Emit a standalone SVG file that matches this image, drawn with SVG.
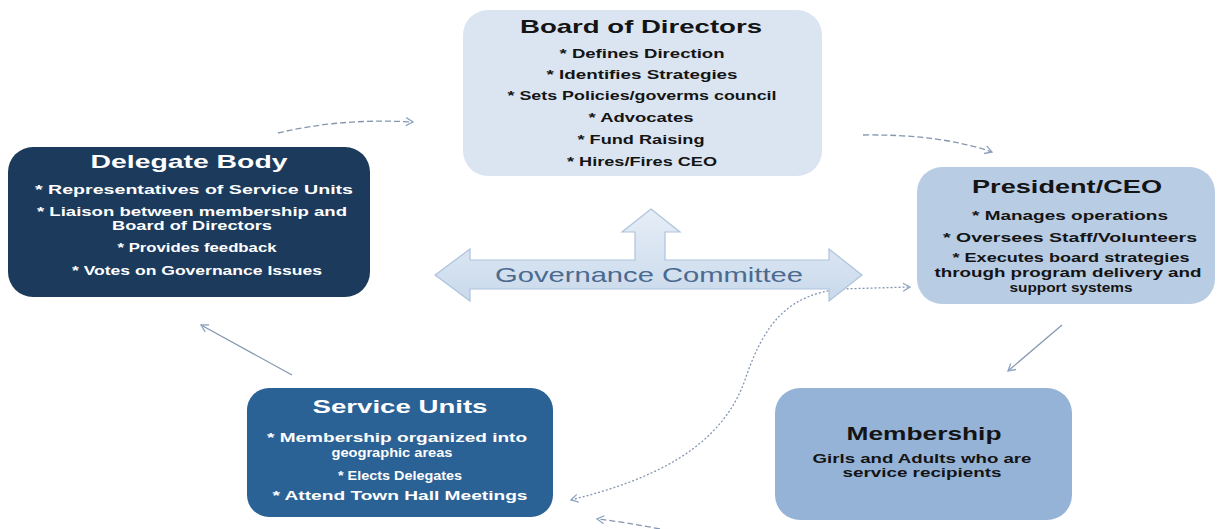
<svg xmlns="http://www.w3.org/2000/svg" width="1218" height="529" viewBox="0 0 1218 529">
<style>
text{font-family:"Liberation Sans",Arial,sans-serif;font-weight:bold;text-anchor:middle}
.t{font-size:19px}
.b{font-size:12px}
.dark{fill:#141414}
.light{fill:#ffffff}
.conn{fill:none;stroke:#8597b0;stroke-width:1.3}
.dash{stroke-dasharray:6 3}
.dot{stroke-dasharray:2 2}
</style>
<defs>
<marker id="arr" markerWidth="10" markerHeight="10" refX="8" refY="5" orient="auto" markerUnits="userSpaceOnUse">
<path d="M1,1 L8,5 L1,9" fill="none" stroke="#8ea4c2" stroke-width="1.3"/>
</marker>
<marker id="arrS" markerWidth="10" markerHeight="10" refX="2" refY="5" orient="auto" markerUnits="userSpaceOnUse">
<path d="M9,1 L2,5 L9,9" fill="none" stroke="#8ea4c2" stroke-width="1.3"/>
</marker>
<linearGradient id="gc" x1="0" y1="0" x2="0" y2="1">
<stop offset="0" stop-color="#e6eef7"/>
<stop offset="1" stop-color="#c9d9eb"/>
</linearGradient>
</defs>
<rect width="1218" height="529" fill="#ffffff"/>

<g id="connectors">
<path class="conn dash" d="M278,133 Q340,118 413,122" marker-end="url(#arr)"/>
<path class="conn dash" d="M863,135 Q940,134 992,152" marker-end="url(#arr)"/>
<path class="conn" d="M1062,325 L1008,371" marker-end="url(#arr)"/>
<path class="conn dash" d="M660,529 Q625,522 597,519" marker-end="url(#arr)"/>
<path class="conn" d="M292,375 L201,325" marker-end="url(#arr)"/>
<path class="conn dot" d="M571,500 C650,480 720,450 745,380 C765,320 790,295 840,289 L910,287" marker-start="url(#arrS)" marker-end="url(#arr)"/>
</g>

<g id="governance">
<path d="M435,275 L470,249 L470,260 L635,260 L635,232 L622,232 L651,209 L680,232 L665,232 L665,260 L829,260 L829,249 L862,275 L829,301 L829,289 L470,289 L470,301 Z" fill="url(#gc)" stroke="#aec3dc" stroke-width="1.2"/>
<text x="649" y="282" style="font-size:21px;font-weight:normal;fill:#4a6a8f" textLength="308" lengthAdjust="spacingAndGlyphs">Governance Committee</text>
</g>

<g id="board">
<rect x="463" y="10" width="359" height="166" rx="25" fill="#dbe5f1"/>
<text class="t dark" x="641" y="33" textLength="242" lengthAdjust="spacingAndGlyphs">Board of Directors</text>
<text class="b dark" x="642" y="58" textLength="165" lengthAdjust="spacingAndGlyphs">* Defines Direction</text>
<text class="b dark" x="642" y="79" textLength="191" lengthAdjust="spacingAndGlyphs">* Identifies Strategies</text>
<text class="b dark" x="642" y="100" textLength="269" lengthAdjust="spacingAndGlyphs">* Sets Policies/goverms council</text>
<text class="b dark" x="641" y="122" textLength="105" lengthAdjust="spacingAndGlyphs">* Advocates</text>
<text class="b dark" x="641" y="144" textLength="127" lengthAdjust="spacingAndGlyphs">* Fund Raising</text>
<text class="b dark" x="642" y="166" textLength="150" lengthAdjust="spacingAndGlyphs">* Hires/Fires CEO</text>
</g>

<g id="delegate">
<rect x="8" y="147" width="362" height="150" rx="25" fill="#1b3a5c"/>
<text class="t light" x="189" y="168" textLength="197" lengthAdjust="spacingAndGlyphs">Delegate Body</text>
<text class="b light" x="194" y="194" textLength="318" lengthAdjust="spacingAndGlyphs">* Representatives of Service Units</text>
<text class="b light" x="192" y="216" textLength="310" lengthAdjust="spacingAndGlyphs">* Liaison between membership and</text>
<text class="b light" x="192" y="230" textLength="160" lengthAdjust="spacingAndGlyphs">Board of Directors</text>
<text class="b light" x="197" y="252" textLength="159" lengthAdjust="spacingAndGlyphs">* Provides feedback</text>
<text class="b light" x="197" y="275" textLength="250" lengthAdjust="spacingAndGlyphs">* Votes on Governance Issues</text>
</g>

<g id="president">
<rect x="917" y="167" width="298" height="137" rx="25" fill="#b8cce4"/>
<text class="t dark" x="1067" y="193" textLength="190" lengthAdjust="spacingAndGlyphs">President/CEO</text>
<text class="b dark" x="1070" y="220" textLength="196" lengthAdjust="spacingAndGlyphs">*  Manages operations</text>
<text class="b dark" x="1070" y="242" textLength="254" lengthAdjust="spacingAndGlyphs">* Oversees Staff/Volunteers</text>
<text class="b dark" x="1071" y="262" textLength="237" lengthAdjust="spacingAndGlyphs">*  Executes board strategies</text>
<text class="b dark" x="1068" y="277" textLength="267" lengthAdjust="spacingAndGlyphs">through program delivery and</text>
<text class="b dark" x="1071" y="292" textLength="123" lengthAdjust="spacingAndGlyphs">support systems</text>
</g>

<g id="service-units">
<rect x="247" y="388" width="306" height="129" rx="22" fill="#2b6296"/>
<text class="t light" x="400" y="413" textLength="175" lengthAdjust="spacingAndGlyphs">Service Units</text>
<text class="b light" x="397" y="442" textLength="260" lengthAdjust="spacingAndGlyphs">* Membership organized into</text>
<text class="b light" x="392" y="457" textLength="121" lengthAdjust="spacingAndGlyphs">geographic areas</text>
<text class="b light" x="400" y="480" textLength="124" lengthAdjust="spacingAndGlyphs">* Elects Delegates</text>
<text class="b light" x="400" y="500" textLength="255" lengthAdjust="spacingAndGlyphs">* Attend Town Hall Meetings</text>
</g>

<g id="membership">
<rect x="775" y="388" width="297" height="132" rx="25" fill="#95b3d7"/>
<text class="t dark" x="924" y="440" textLength="155" lengthAdjust="spacingAndGlyphs">Membership</text>
<text class="b dark" x="922" y="463" textLength="219" lengthAdjust="spacingAndGlyphs">Girls and Adults who are</text>
<text class="b dark" x="922" y="477" textLength="159" lengthAdjust="spacingAndGlyphs">service recipients</text>
</g>
</svg>
